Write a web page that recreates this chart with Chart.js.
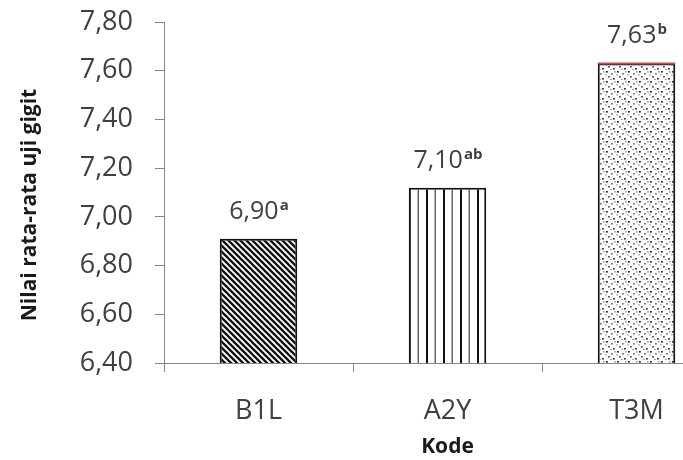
<!DOCTYPE html>
<html lang="id">
<head>
<meta charset="UTF-8">
<title>Nilai rata-rata uji gigit</title>
<script src="https://cdn.jsdelivr.net/npm/chart.js"></script>
<style>
    html, body { margin: 0; padding: 0; background: #fff; overflow: hidden; }
    /* grafik aslinya terpotong di kanan, jadi kanvas dibuat lebih lebar dari jendela */
    #wadah { width: 745px; height: 460px; }
</style>
</head>
<body>

<div id="wadah">
    <canvas id="grafikGigit" width="745" height="460"></canvas>
</div>

<script>
    // data
    const kode = ['B1L', 'A2Y', 'T3M'];
    const nilaiRata = [6.91, 7.12, 7.63];
    const labelNilai = ['6,90', '7,10', '7,63'];
    const hurufBeda = ['a', 'ab', 'b'];
    const sumbuMin = 6.40;
    const sumbuMax = 7.80;
    const sumbuLangkah = 0.20;

    // pola isi batang
    function polaMiring() {
        const c = document.createElement('canvas');
        c.width = 6; c.height = 6;
        const g = c.getContext('2d');
        g.fillStyle = '#fff'; g.fillRect(0, 0, 6, 6);
        g.strokeStyle = '#111'; g.lineWidth = 2.3;
        g.beginPath();
        g.moveTo(-1, -1); g.lineTo(7, 7);
        g.moveTo(-7, -1); g.lineTo(1, 7);
        g.moveTo(5, -1); g.lineTo(13, 7);
        g.stroke();
        return g.createPattern(c, 'repeat');
    }

    function polaTegak() {
        const c = document.createElement('canvas');
        c.width = 17; c.height = 4;
        const g = c.getContext('2d');
        g.fillStyle = '#fff'; g.fillRect(0, 0, 17, 4);
        g.fillStyle = '#111'; g.fillRect(1, 0, 2, 4);
        g.fillStyle = '#666'; g.fillRect(9.5, 0, 1.5, 4);
        return g.createPattern(c, 'repeat');
    }

    function polaTitik() {
        const c = document.createElement('canvas');
        c.width = 11; c.height = 10;
        const g = c.getContext('2d');
        g.fillStyle = '#fff'; g.fillRect(0, 0, 11, 10);
        const titik = [[1, 1, '#222'], [6, 3, '#777'], [3, 6, '#555'], [8, 8, '#333'], [5, 9, '#999'], [9, 1, '#aaa'], [0, 4, '#bbb']];
        titik.forEach(function (t) {
            g.fillStyle = t[2];
            g.fillRect(t[0], t[1], 1.8, 1.6);
        });
        return g.createPattern(c, 'repeat');
    }

    const warnaTeks = '#404040';
    const garisSumbu = '#868686';

    // judul sumbu y + label nilai di atas batang
    const pluginTeks = {
        id: 'pluginTeks',
        afterDatasetsDraw(chart) {
            const ctx = chart.ctx;
            const meta = chart.getDatasetMeta(0);

            // garis merah tipis di atas batang T3M
            const el = meta.data[2];
            ctx.save();
            ctx.strokeStyle = '#c0504d';
            ctx.lineWidth = 2;
            ctx.beginPath();
            ctx.moveTo(el.x - el.width / 2, el.y);
            ctx.lineTo(el.x + el.width / 2, el.y);
            ctx.stroke();
            ctx.restore();

            meta.data.forEach(function (bar, i) {
                ctx.save();
                ctx.fillStyle = warnaTeks;
                ctx.textBaseline = 'alphabetic';
                ctx.font = '25px "Open Sans"';
                const lebarUtama = ctx.measureText(labelNilai[i]).width;
                ctx.font = 'bold 15px "Open Sans"';
                const lebarSup = ctx.measureText(hurufBeda[i]).width;
                const kiri = bar.x - (lebarUtama + lebarSup) / 2;
                const dasar = bar.y - 20;
                ctx.textAlign = 'left';
                ctx.font = '25px "Open Sans"';
                ctx.fillText(labelNilai[i], kiri, dasar);
                ctx.font = 'bold 15px "Open Sans"';
                ctx.fillText(hurufBeda[i], kiri + lebarUtama + 1, dasar - 9);
                ctx.restore();
            });

            ctx.save();
            ctx.translate(30, 205);
            ctx.rotate(-Math.PI / 2);
            ctx.fillStyle = '#1a1a1a';
            ctx.font = 'bold 21px "Open Sans"';
            ctx.textAlign = 'center';
            ctx.textBaseline = 'middle';
            ctx.fillText('Nilai rata-rata uji gigit', 0, 0);
            ctx.restore();
        }
    };

    const dados = {
        labels: kode,
        datasets: [{
            label: 'Nilai rata-rata uji gigit',
            data: nilaiRata,
            backgroundColor: [polaMiring(), polaTegak(), polaTitik()],
            borderColor: '#111',
            borderWidth: 2,
            borderSkipped: 'start',
            barPercentage: 0.41,
            categoryPercentage: 1
        }]
    };

    const config = {
        type: 'bar',
        data: dados,
        options: {
            responsive: false,
            devicePixelRatio: 1,
            animation: false,
            layout: { padding: { top: 22, right: 14, left: 0, bottom: 0 } },
            plugins: {
                legend: { display: false },
                tooltip: { enabled: false }
            },
            scales: {
                x: {
                    afterFit(scale) { scale.height = 97; },
                    grid: { offset: true, drawOnChartArea: false, tickLength: 9, color: garisSumbu },
                    border: { color: garisSumbu, width: 1 },
                    ticks: { color: warnaTeks, padding: 23, font: { family: 'Open Sans', size: 27 } },
                    title: {
                        display: true,
                        text: 'Kode',
                        color: '#1a1a1a',
                        font: { family: 'Open Sans', size: 21, weight: 'bold' },
                        padding: { top: 0, bottom: 0 }
                    }
                },
                y: {
                    min: sumbuMin,
                    max: sumbuMax,
                    afterFit(scale) {
                        scale.width = 164;
                        scale.paddingTop = 0;
                        scale.paddingBottom = 0;
                    },
                    grid: { drawOnChartArea: false, tickLength: 9, color: garisSumbu },
                    border: { color: garisSumbu, width: 1 },
                    ticks: {
                        stepSize: sumbuLangkah,
                        color: warnaTeks,
                        padding: 22,
                        font: { family: 'Open Sans', size: 27 },
                        callback: function (v) { return v.toFixed(2).replace('.', ','); }
                    }
                }
            }
        },
        plugins: [pluginTeks]
    };

    let myChart = new Chart(document.getElementById('grafikGigit'), config);
</script>
</body>
</html>
